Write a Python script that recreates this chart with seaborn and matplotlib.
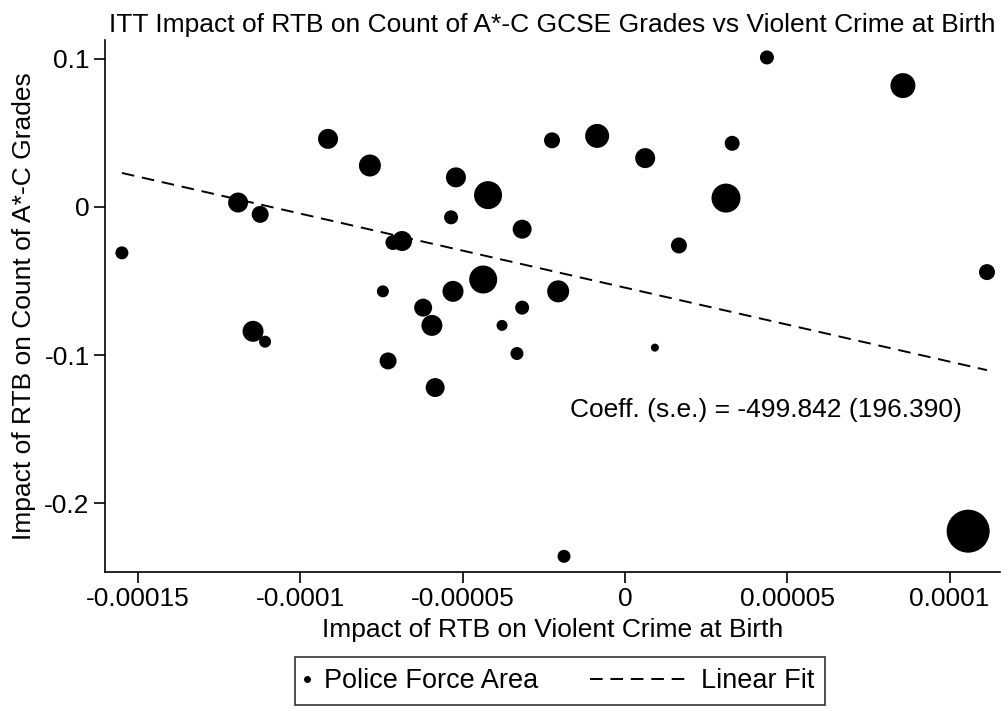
import numpy as np
import pandas as pd
import matplotlib
matplotlib.use("Agg")
import matplotlib.pyplot as plt
from matplotlib.lines import Line2D
from matplotlib.legend_handler import HandlerLine2D
import seaborn as sns

# Datos (x en unidades de 1e-5)
crime_impact_e5 = [-15.50, -11.92, -11.24, -11.46, -11.09, -9.15, -7.86, -7.15, -6.87,
                   -7.46, -7.30, -6.22, -5.95, -5.85, -5.36, -5.21, -4.22, -5.30,
                   -4.37, -3.79, -3.33, -3.17, -3.17, -2.25, -2.06, -1.88, -0.86,
                   0.62, 0.92, 1.66, 3.11, 3.30, 4.37, 8.56, 10.57, 11.15]
grades_impact = [-0.031, 0.003, -0.005, -0.084, -0.091, 0.046, 0.028, -0.024, -0.023,
                 -0.057, -0.104, -0.068, -0.080, -0.122, -0.007, 0.020, 0.008, -0.057,
                 -0.049, -0.080, -0.099, -0.068, -0.015, 0.045, -0.057, -0.236, 0.048,
                 0.033, -0.095, -0.026, 0.006, 0.043, 0.101, 0.082, -0.219, -0.044]
# peso relativo de cada área (área del marcador)
weight = [169, 400, 289, 441, 144, 400, 484, 225, 400, 144, 289, 324, 441, 361, 196,
          400, 784, 441, 784, 121, 169, 196, 361, 256, 484, 169, 576, 400, 64, 256,
          841, 225, 196, 625, 1849, 256]

fit_slope = -499.842
fit_se = 196.390
fit_intercept = -0.0545

x_ticks = [-0.00015, -0.0001, -0.00005, 0, 0.00005, 0.0001]
x_tick_labels = ["-0.00015", "-0.0001", "-0.00005", "0", "0.00005", "0.0001"]
y_ticks = [0.1, 0, -0.1, -0.2]
y_tick_labels = ["0.1", "0", "-0.1", "-0.2"]

df = pd.DataFrame({
    "x": np.array(crime_impact_e5) * 1e-5,
    "y": grades_impact,
    "w": weight,
})

sns.set_style("white")
plt.rcParams["font.family"] = ["Liberation Sans", "DejaVu Sans"]
for k in ["text.color", "axes.labelcolor", "xtick.color", "ytick.color"]:
    plt.rcParams[k] = "black"

FS = 19

fig = plt.figure(figsize=(10.05, 7.09), dpi=100)
ax = fig.add_axes([0.1045, 0.1932, 0.8905, 0.7504])

wmax = max(weight)
px2 = 0.72 ** 2
sns.scatterplot(data=df, x="x", y="y", size="w", sizes=(0, wmax * px2),
                size_norm=(0, wmax), color="black", edgecolor="none",
                legend=False, ax=ax)

xs = np.array([df["x"].min(), df["x"].max()])
fit_df = pd.DataFrame({"x": xs, "y": fit_intercept + fit_slope * xs})
sns.lineplot(data=fit_df, x="x", y="y", color="black", lw=1.4,
             linestyle=(0, (6.5, 4)), ax=ax)

ax.text(-0.0000169, -0.137, f"Coeff. (s.e.) = {fit_slope:.3f} ({fit_se:.3f})",
        fontsize=FS, ha="left", va="center")

ax.set_xlim(-0.0001602, 0.0001155)
ax.set_ylim(-0.2466, 0.1128)
ax.set_xticks(x_ticks)
ax.set_xticklabels(x_tick_labels)
ax.set_yticks(y_ticks)
ax.set_yticklabels(y_tick_labels)
ax.tick_params(axis="both", direction="out", length=8, width=1.2, labelsize=FS,
               color="black", bottom=True, left=True, pad=3)
for s in ["top", "right"]:
    ax.spines[s].set_visible(False)
for s in ["left", "bottom"]:
    ax.spines[s].set_color("black")
    ax.spines[s].set_linewidth(1.2)

ax.set_xlabel("Impact of RTB on Violent Crime at Birth", fontsize=FS, labelpad=5)
ax.set_ylabel("Impact of RTB on Count of A*-C Grades", fontsize=FS, labelpad=6)
ax.set_title("ITT Impact of RTB on Count of A*-C GCSE Grades vs Violent Crime at Birth",
             fontsize=FS, pad=6)


class NarrowDot(HandlerLine2D):
    # punto de la leyenda con caja estrecha, como en el original
    def legend_artist(self, legend, orig_handle, fontsize, handlebox):
        handlebox.width = 2
        return super().legend_artist(legend, orig_handle, fontsize, handlebox)


dot_handle = Line2D([], [], color="black", marker="o", markersize=4, linestyle="none")
fit_handle = Line2D([], [], color="black", lw=1.4, linestyle=(0, (6.5, 4)))
leg = fig.legend([dot_handle, fit_handle], ["Police Force Area", "Linear Fit"], ncol=2,
                 loc="center", bbox_to_anchor=(560 / 1005, 1 - 681 / 709),
                 fontsize=19.5, frameon=True, fancybox=False, edgecolor="black",
                 handlelength=3.5, columnspacing=1.9, handletextpad=0.6,
                 borderpad=0.4, handler_map={dot_handle: NarrowDot(numpoints=1)})
leg.get_frame().set_linewidth(1.2)

fig.savefig("out.png", dpi=100, facecolor="white")
